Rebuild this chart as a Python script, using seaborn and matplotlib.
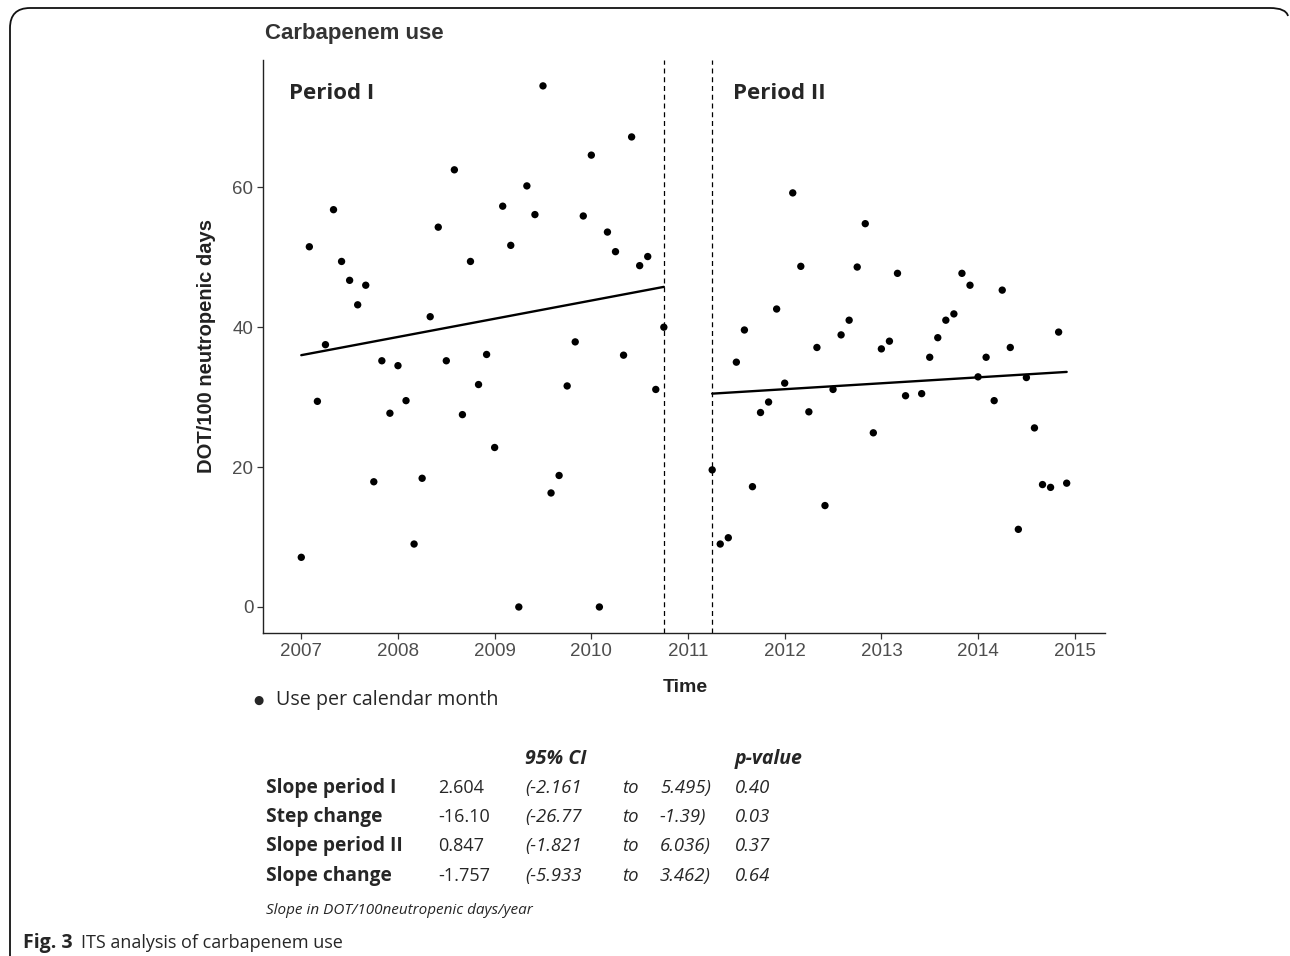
import numpy as np
import pandas as pd
import matplotlib
matplotlib.use("Agg")
import matplotlib.pyplot as plt
from matplotlib.path import Path
from matplotlib.patches import PathPatch
import seaborn as sns

# ---------------- data ----------------
months_p1 = list(range(0, 46))          # Jan 2007 .. Oct 2010 (month index from Jan 2007)
use_p1 = [7.1, 51.5, 29.4, 37.5, 56.8, 49.4, 46.7, 43.2, 46.0, 17.9,
          35.2, 27.7, 34.5, 29.5, 9.0, 18.4, 41.5, 54.3, 35.2, 62.5,
          27.5, 49.4, 31.8, 36.1, 22.8, 57.3, 51.7, 0.0, 60.2, 56.1,
          74.5, 16.3, 18.8, 31.6, 37.9, 55.9, 64.6, 0.0, 53.6, 50.8,
          36.0, 67.2, 48.8, 50.1, 31.1, 40.0]
months_p2 = list(range(51, 96))         # Apr 2011 .. Dec 2014
use_p2 = [19.6, 9.0, 9.9, 35.0, 39.6, 17.2, 27.8, 29.3, 42.6, 32.0,
          59.2, 48.7, 27.9, 37.1, 14.5, 31.1, 38.9, 41.0, 48.6, 54.8,
          24.9, 36.9, 38.0, 47.7, 30.2, np.nan, 30.5, 35.7, 38.5, 41.0,
          41.9, 47.7, 46.0, 32.9, 35.7, 29.5, 45.3, 37.1, 11.1, 32.8,
          25.6, 17.5, 17.1, 39.3, 17.7]

# fitted segments (level at segment start, slope per year)
fit_p1_start, fit_p1_slope = 36.0, 2.604
fit_p2_start, fit_p2_slope = 30.5, 0.847
interruptions = [2010.75, 2011.25]

x_ticks = [2007, 2008, 2009, 2010, 2011, 2012, 2013, 2014, 2015]
y_ticks = [0, 20, 40, 60]

table_rows = ["Slope period I", "Step change", "Slope period II", "Slope change"]
table_est = ["2.604", "-16.10", "0.847", "-1.757"]
table_lo = ["(-2.161", "(-26.77", "(-1.821", "(-5.933"]
table_hi = ["5.495)", "-1.39)", "6.036)", "3.462)"]
table_p = ["0.40", "0.03", "0.37", "0.64"]

# ---------------- frames ----------------
df = pd.DataFrame({
    "time": [2007 + m / 12 for m in months_p1 + months_p2],
    "use": use_p1 + use_p2,
})
f1 = pd.DataFrame({"time": [2007 + m / 12 for m in months_p1]})
f1["fit"] = fit_p1_start + fit_p1_slope * (f1["time"] - f1["time"].iloc[0])
f2 = pd.DataFrame({"time": [2007 + m / 12 for m in months_p2]})
f2["fit"] = fit_p2_start + fit_p2_slope * (f2["time"] - f2["time"].iloc[0])

sns.set_theme(style="white")
plt.rcParams["font.family"] = ["Liberation Sans", "DejaVu Sans"]

W, H = 1290, 956
fig = plt.figure(figsize=(W / 100, H / 100), dpi=100)
ax = fig.add_axes([263 / W, 1 - 633 / H, (1105 - 263) / W, (633 - 60) / H])

sns.scatterplot(data=df, x="time", y="use", ax=ax, color="black", s=28,
                edgecolor="none", zorder=3)
sns.lineplot(data=f1, x="time", y="fit", ax=ax, color="black", lw=1.7)
sns.lineplot(data=f2, x="time", y="fit", ax=ax, color="black", lw=1.7)
for xv in interruptions:
    ax.axvline(xv, color="black", lw=0.9, ls=(0, (4, 3)))

ax.set_xlim(2006.604, 2015.313)
ax.set_ylim(-3.72, 78.2)
ax.set_xticks(x_ticks)
ax.set_yticks(y_ticks)
ax.set_xticklabels([str(t) for t in x_ticks])
ax.set_yticklabels([str(t) for t in y_ticks])
ax.tick_params(axis="both", which="both", direction="out", length=4, width=0.9,
               color="#333333", labelsize=13.5, labelcolor="#4d4d4d", pad=3,
               bottom=True, left=True)
for side in ["top", "right"]:
    ax.spines[side].set_visible(False)
for side in ["left", "bottom"]:
    ax.spines[side].set_color("#222222")
    ax.spines[side].set_linewidth(1.0)
ax.set_xlabel("")
ax.set_ylabel("")
ax.grid(False)

seg = ["Open Sans", "DejaVu Sans"]
ax.text(0.031, 0.941, "Period I", transform=ax.transAxes,
        fontsize=16, fontweight="bold", family=seg, va="center", ha="left")
ax.text(0.558, 0.941, "Period II", transform=ax.transAxes,
        fontsize=16, fontweight="bold", family=seg, va="center", ha="left")

def ft(x, y, s, **kw):
    fig.text(x / W, 1 - y / H, s, **kw)

ft(265, 33, "Carbapenem use", fontsize=16, fontweight="bold", color="#333333",
   va="center", ha="left")
ft(207, 346, "DOT/100 neutropenic days", fontsize=14.5, fontweight="bold",
   color="#222222", rotation=90, va="center", ha="center")
ft(685, 688, "Time", fontsize=14, fontweight="bold", color="#222222",
   va="center", ha="center")

# legend-like note
ft(258, 700, "\u25CF", fontsize=8.5, family=["DejaVu Sans"], va="center", ha="center")
ft(276, 700, "Use per calendar month", fontsize=14.2, family=seg, va="center", ha="left")

# stats table
ft(525, 759, "95% CI", fontsize=14, family=seg, fontweight="bold", style="italic",
   va="center", ha="left")
ft(735, 759, "p-value", fontsize=14, family=seg, fontweight="bold", style="italic",
   va="center", ha="left")
row_y = [788, 817, 846, 876]
for yy, lab, est, lo, hi, p in zip(row_y, table_rows, table_est, table_lo, table_hi, table_p):
    ft(266, yy, lab, fontsize=13.8, family=seg, fontweight="bold", va="center", ha="left")
    ft(438, yy, est, fontsize=13, family=seg, va="center", ha="left")
    ft(525, yy, lo, fontsize=13.3, family=seg, style="italic", va="center", ha="left")
    ft(622, yy, "to", fontsize=13.3, family=seg, style="italic", va="center", ha="left")
    ft(660, yy, hi, fontsize=13.3, family=seg, style="italic", va="center", ha="left")
    ft(735, yy, p, fontsize=13.3, family=seg, style="italic", va="center", ha="left")
ft(266, 910, "Slope in DOT/100neutropenic days/year", fontsize=11, family=seg,
   style="italic", va="center", ha="left")

# caption
ft(23, 943, "Fig. 3", fontsize=14, family=seg, fontweight="bold", va="center", ha="left")
ft(81, 943, "ITS analysis of carbapenem use", fontsize=13, family=seg,
   va="center", ha="left")

# outer frame (left and top, rounded corners)
verts = [(10, 0), (10, H - 28), (10, H - 8), (30, H - 8),
         (1270, H - 8), (1286, H - 8), (1288, H - 16)]
codes = [Path.MOVETO, Path.LINETO, Path.CURVE3, Path.CURVE3,
         Path.LINETO, Path.CURVE3, Path.CURVE3]
frame = PathPatch(Path(verts, codes), transform=None, fill=False,
                  edgecolor="#111111", lw=1.3)
fig.patches.append(frame)

fig.savefig("out.png", dpi=100)
